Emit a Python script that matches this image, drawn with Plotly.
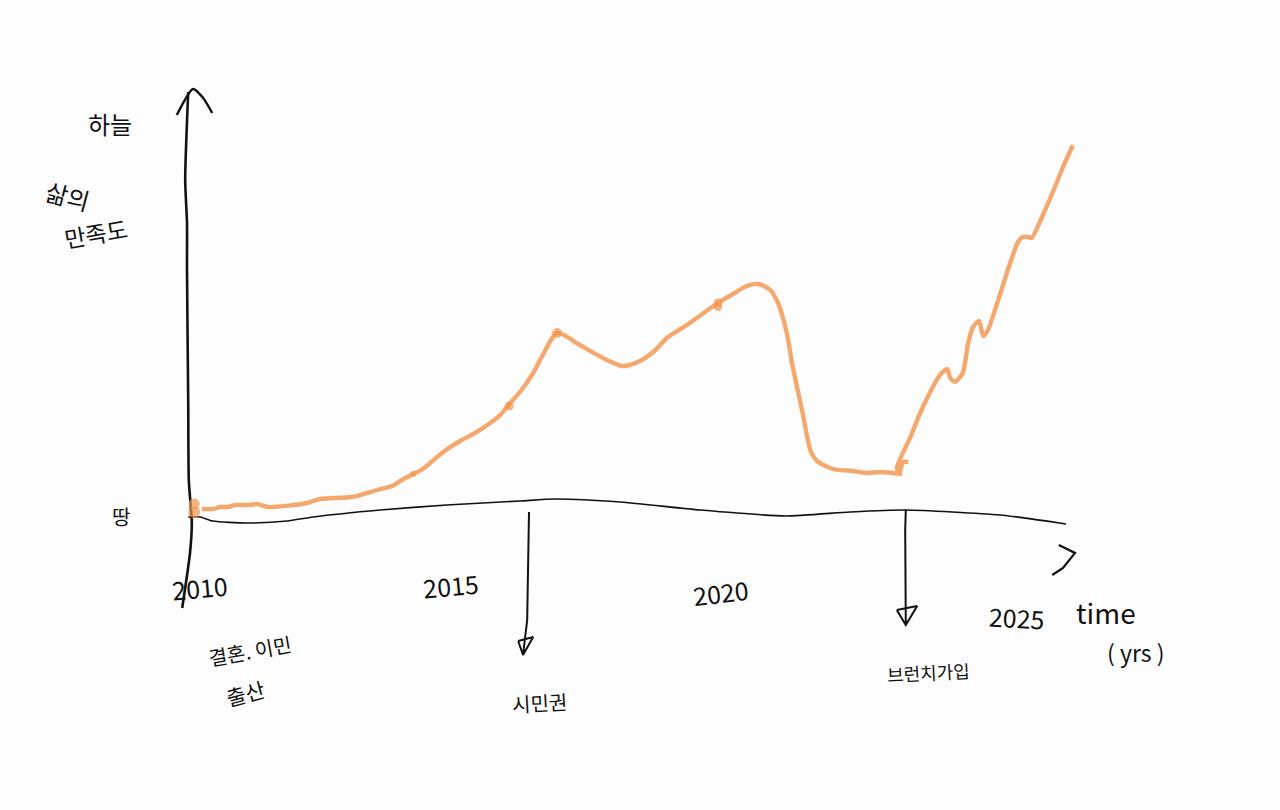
import plotly.graph_objects as go

# Life satisfaction curve (year, satisfaction)
years_a = [2010.20, 2010.38, 2010.50, 2010.63, 2010.75, 2011.00, 2011.12, 2011.30, 2011.72, 2011.95,
           2012.17, 2012.70, 2013.12, 2013.37, 2013.53, 2013.72, 2013.88, 2014.22, 2014.50, 2014.75,
           2015.05, 2015.17, 2015.32, 2015.50, 2015.72, 2015.88, 2016.12, 2016.47, 2016.67, 2016.95,
           2017.22, 2017.50, 2017.72, 2017.95, 2018.28, 2018.80, 2019.05, 2019.28, 2019.47, 2019.67,
           2019.80, 2019.95, 2020.03, 2020.20, 2020.35, 2020.45, 2020.72, 2021.05, 2021.28, 2021.50, 2021.87]
values_a = [0.25, 0.25, 0.75, 0.75, 1.25, 1.25, 1.5, 0.75, 1.25, 1.75,
            2.75, 3.25, 5, 6, 7.5, 9, 10.25, 14.5, 17.25, 19.25,
            22.25, 23.75, 26.5, 29.5, 34.25, 38.75, 44.25, 41.5, 39.75, 37.5,
            36, 37.25, 39.5, 43, 46.25, 51.75, 54, 56, 56.5, 55,
            51.75, 44, 37, 25, 14.5, 12.25, 10.25, 9.75, 9.25, 9.5, 9]

years_b = [2021.97, 2021.88, 2021.83, 2021.78, 2022.00, 2022.17, 2022.38, 2022.50, 2022.62, 2022.67,
           2022.75, 2022.88, 2022.97, 2023.05, 2023.15, 2023.22, 2023.30, 2023.47, 2023.67, 2023.80,
           2023.88, 2023.97, 2024.03, 2024.20, 2024.45, 2024.55, 2024.70]
values_b = [12, 12, 9.5, 10.5, 18, 24.25, 30.75, 33.75, 35.25, 33,
            32, 34.25, 41.75, 45.75, 47.25, 43.5, 45, 52.5, 61.75, 67,
            68.25, 68.25, 68, 73.25, 82, 85.75, 90.75]

# Pen pressure spots along the curve
spot_years = [2010.07, 2010.07, 2013.72, 2015.32, 2016.12, 2018.80, 2018.80, 2024.70]
spot_values = [-0.5, 1.5, 9, 26, 44.25, 51.75, 50.75, 90.75]
spot_sizes = [12, 11, 6, 9, 10, 9, 8, 5]

# Hand-drawn axes
y_axis_years = [2009.87, 2010.00, 2010.03, 2009.98, 2009.97, 2009.95, 2009.95, 2009.92, 2009.97]
y_axis_values = [-24.5, -10.75, -3.25, 7.5, 27.5, 60, 71.75, 82.5, 104.5]
y_head_years = [2009.78, 2010.05, 2010.22, 2010.37]
y_head_values = [98.75, 105.25, 103, 99.25]

x_axis_years = [2009.97, 2010.17, 2010.38, 2010.95, 2011.62, 2012.05, 2013.17, 2014.28, 2015.50,
                2016.08, 2017.17, 2018.50, 2019.92, 2021.00, 2021.92, 2023.50, 2024.60]
x_axis_values = [-1.75, -1.75, -2.75, -3.25, -2.75, -1.75, 0, 1.25, 2.25,
                 2.75, 2, 0, -1.5, -0.5, 0, -1.25, -3.5]
x_head_years = [2024.48, 2024.75, 2024.55, 2024.37]
x_head_values = [-8.75, -10.75, -14.5, -16.25]

# Event arrows
arrow1_years = [2015.65, 2015.62, 2015.55, 2015.47, 2015.55, 2015.72, 2015.47]
arrow1_values = [-0.5, -27.5, -36.25, -32.75, -36.25, -31.75, -32.75]
arrow2_years = [2021.93, 2021.92, 2021.93, 2021.78, 2021.93, 2022.12, 2021.78]
arrow2_values = [0, -5, -28.75, -25, -28.75, -24, -25]

# Text: label, year, value, font size, angle
label_text = ["하늘", "삶의", "만족도", "땅", "2010", "2015", "2020", "2025", "time", "( yrs )",
              "결혼. 이민", "출산", "시민권", "브런치가입"]
label_year = [2008.67, 2007.97, 2008.43, 2008.85, 2010.17, 2014.35, 2018.85, 2023.78, 2025.27, 2025.75,
              2011.00, 2010.93, 2015.82, 2022.30]
label_value = [96.75, 78.75, 69.25, -1.5, -19.25, -18.75, -20.5, -26.75, -25.5, -35.5,
               -35, -45.75, -48, -40.5]
label_size = [24, 24, 23, 20, 25, 25, 25, 25, 28, 23, 20, 21, 20, 18]
label_angle = [0, 15, -10, 0, -5, -5, -7, 3, 0, 0, -10, -15, -3, -3]

ORANGE = "#F5A86E"
DEEP = "#F2974F"
INK = "#111111"
PAPER = "#FDFDFD"

fig = go.Figure()


def stroke(x, y, width, color=INK, smooth=0.0):
    line = dict(color=color, width=width)
    if smooth:
        line.update(shape="spline", smoothing=smooth)
    fig.add_trace(go.Scatter(x=x, y=y, mode="lines", line=line, hoverinfo="skip", showlegend=False))


stroke(y_axis_years, y_axis_values, 2.6, smooth=0.6)
stroke(y_head_years, y_head_values, 2.4, smooth=0.6)
stroke(x_axis_years, x_axis_values, 1.6, smooth=0.6)
stroke(x_head_years, x_head_values, 2.2)
stroke(arrow1_years, arrow1_values, 2.0)
stroke(arrow2_years, arrow2_values, 2.0)
stroke(years_a, values_a, 4.4, ORANGE, 0.8)
stroke(years_b, values_b, 4.4, ORANGE, 0.6)

fig.add_trace(go.Scatter(x=spot_years, y=spot_values, mode="markers",
                         marker=dict(color=DEEP, size=spot_sizes, line=dict(width=0)),
                         hoverinfo="skip", showlegend=False))

for text, yr, val, size, angle in zip(label_text, label_year, label_value, label_size, label_angle):
    fig.add_annotation(x=yr, y=val, xref="x", yref="y", text=text, showarrow=False,
                       font=dict(size=size, color=INK, family="Noto Sans CJK KR, Noto Sans, sans-serif"),
                       textangle=angle)

fig.update_layout(
    width=1280, height=810,
    margin=dict(l=0, r=0, t=0, b=0),
    paper_bgcolor=PAPER, plot_bgcolor=PAPER,
    showlegend=False,
    xaxis=dict(range=[2006.8333, 2028.1667], visible=False, fixedrange=True),
    yaxis=dict(range=[-75, 127.5], visible=False, fixedrange=True),
)

fig.write_html("out.html", config=dict(displayModeBar=False),
               post_script="document.body.style.margin='0';document.body.style.background='#FDFDFD';")
